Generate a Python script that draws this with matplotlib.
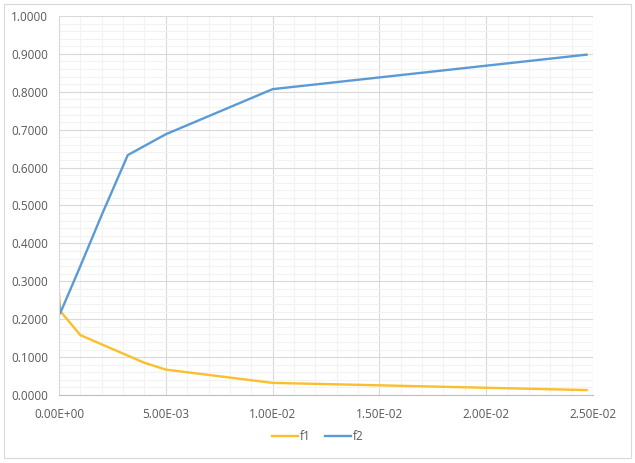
import matplotlib
matplotlib.use("Agg")
import matplotlib.pyplot as plt
from matplotlib.ticker import MultipleLocator, FuncFormatter
from matplotlib.patches import Rectangle

plt.rcParams['font.family'] = ['Open Sans', 'DejaVu Sans']

f1_x = [0.0, 0.00005, 0.001, 0.004, 0.005, 0.010, 0.0247]
f1_y = [0.270, 0.222, 0.158, 0.085, 0.067, 0.032, 0.013]
f2_x = [0.0, 0.00005, 0.001, 0.002, 0.00322, 0.005, 0.010, 0.0247]
f2_y = [0.245, 0.215, 0.340, 0.475, 0.633, 0.688, 0.807, 0.898]

fig = plt.figure(figsize=(6.35, 4.63), dpi=100)
fig.patches.append(Rectangle((0.006, 0.01), 0.987, 0.982, transform=fig.transFigure,
                             fill=False, edgecolor='#D9D9D9', linewidth=0.8))
ax = fig.add_axes([59/635, 1 - 395/463, (593-59)/635, (395-16)/463])

ax.plot(f1_x, f1_y, color='#FBBE2C', linewidth=1.7, label='f1', solid_joinstyle='round')
ax.plot(f2_x, f2_y, color='#5B9BD5', linewidth=1.7, label='f2', solid_joinstyle='round')

ax.set_xlim(0, 0.025)
ax.set_ylim(0, 1.0)
ax.xaxis.set_major_locator(MultipleLocator(0.005))
ax.xaxis.set_minor_locator(MultipleLocator(0.001))
ax.yaxis.set_major_locator(MultipleLocator(0.1))
ax.yaxis.set_minor_locator(MultipleLocator(0.02))

ax.xaxis.set_major_formatter(FuncFormatter(lambda v, p: f"{v:.2E}"))
ax.yaxis.set_major_formatter(FuncFormatter(lambda v, p: f"{v:.4f}"))

ax.grid(which='major', color='#D9D9D9', linewidth=0.8)
ax.grid(which='minor', color='#F2F2F2', linewidth=0.8)
ax.set_axisbelow(True)
for side in ['top', 'right']:
    ax.spines[side].set_visible(False)
ax.spines['left'].set_color('#D9D9D9')
ax.spines['bottom'].set_color('#BFBFBF')
ax.tick_params(which='both', length=0, colors='#595959', labelsize=8.5)
ax.tick_params(axis='x', pad=9)
ax.tick_params(axis='y', pad=8)

leg = fig.legend(loc='center', bbox_to_anchor=(0.5, 1 - 437/463), ncol=2, frameon=False,
                 fontsize=8.5, handlelength=2.2, columnspacing=1.2, handletextpad=0.15)
for t in leg.get_texts():
    t.set_color('#595959')

fig.savefig('out.png', dpi=100)
